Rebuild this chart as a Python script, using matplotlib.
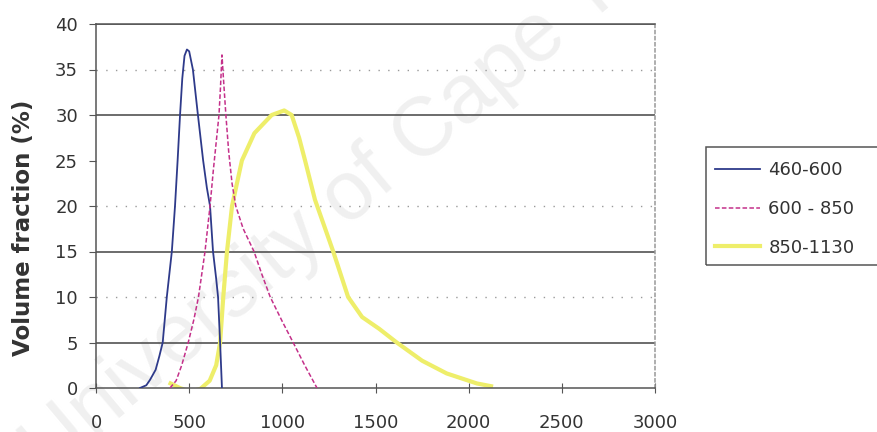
import matplotlib.pyplot as plt
from matplotlib.patches import Rectangle

# particle size distributions
blue_x = [236, 270, 290, 320, 340, 358, 380, 407, 424, 438, 451, 463, 475, 488,
          500, 520, 547, 575, 595, 612, 628, 645, 655, 666, 672, 676]
blue_y = [0, 0.3, 0.9, 2, 3.5, 5, 10, 15, 20, 25, 30, 34, 36.5, 37.2,
          37, 35, 30, 25, 22, 20, 15, 12, 10, 5, 2, 0]

mag_x = [397, 430, 460, 495, 525, 550, 585, 612, 630, 645, 660, 668, 676,
         684, 697, 712, 730, 750, 790, 848, 890, 935, 1000, 1058, 1120, 1186]
mag_y = [0, 0.8, 2.5, 5, 7.5, 10, 15, 20, 24, 27, 30, 33, 36.6,
         34, 30, 26, 22.5, 20, 17.5, 15, 12.5, 10, 7.3, 5, 2.5, 0]

yel_x = [400, 450, 505, 560, 610, 645, 666, 683, 703, 730, 783, 850, 943, 1010,
         1050, 1090, 1122, 1175, 1273, 1353, 1428, 1520, 1614, 1750, 1882, 2044, 2120]
yel_y = [0.5, 0, -0.4, -0.1, 0.8, 2.5, 5, 10, 15, 20, 25, 28, 30, 30.5,
         30, 27.5, 25, 20.7, 15, 10, 7.8, 6.5, 5, 3, 1.6, 0.5, 0.2]

labels = ['460-600', '600 - 850', '850-1130']
x_ticks = [0, 500, 1000, 1500, 2000, 2500, 3000]
y_ticks = [0, 5, 10, 15, 20, 25, 30, 35, 40]

fig = plt.figure(figsize=(8.77, 4.32), dpi=100)
ax = fig.add_axes([96 / 877, 1 - 388 / 432, (655 - 96) / 877, (388 - 24) / 432])
ax.set_facecolor('none')

# watermark behind the axes
fig.text(48 / 877, 1 - 478 / 432, 'University of Cape Town', family='Liberation Sans',
         fontsize=60, color='#f0f0f0', rotation=40, rotation_mode='anchor',
         ha='left', va='baseline', zorder=-1)

# gridlines, some of them faded in the scan
for yv in [40, 30, 15, 5]:
    ax.axhline(yv, color='#444444', lw=1.1, zorder=1)
for yv in [35, 20, 10]:
    ax.axhline(yv, color='#9a9a9a', lw=1.0, ls=(0, (1, 6)), zorder=1)

ax.plot(blue_x, blue_y, color='#2e3a8a', lw=1.3, label=labels[0], zorder=3)
ax.plot(mag_x, mag_y, color='#c4308a', lw=1.1, ls=(0, (3, 1.5)), label=labels[1], zorder=3)
ax.plot(yel_x, yel_y, color='#eeee6a', lw=3.0, label=labels[2], zorder=2)

ax.set_xlim(0, 3000)
ax.set_ylim(0, 40)
ax.set_xticks(x_ticks)
ax.set_yticks(y_ticks)
ax.tick_params(axis='x', direction='inout', length=7, color='#555555',
               labelsize=13, labelcolor='#333333', pad=15)
ax.tick_params(axis='y', direction='out', length=5, color='#555555',
               labelsize=13, labelcolor='#333333', pad=8)
for s in ax.spines.values():
    s.set_color('#555555')
    s.set_linewidth(1.1)
ax.spines['right'].set_linestyle((0, (2, 2)))
ax.spines['right'].set_color('#999999')
ax.set_ylabel('Volume fraction (%)', fontsize=16.5, fontweight='bold', color='#333333')
ax.yaxis.set_label_coords(-0.11, 0.44)

# legend box runs off the right edge in the original
fig.patches.append(Rectangle((706 / 877, 1 - 265 / 432), 0.3, (265 - 147) / 432,
                             transform=fig.transFigure, fill=False,
                             edgecolor='#555555', lw=1.1))
handles, labs = ax.get_legend_handles_labels()
fig.legend(handles, labs, loc='upper left', bbox_to_anchor=(708 / 877, 1 - 154 / 432),
           frameon=False, fontsize=13, handlelength=2.5, handletextpad=0.45,
           labelspacing=1.15, labelcolor='#333333', borderaxespad=0)

fig.savefig('out.png', dpi=100)
